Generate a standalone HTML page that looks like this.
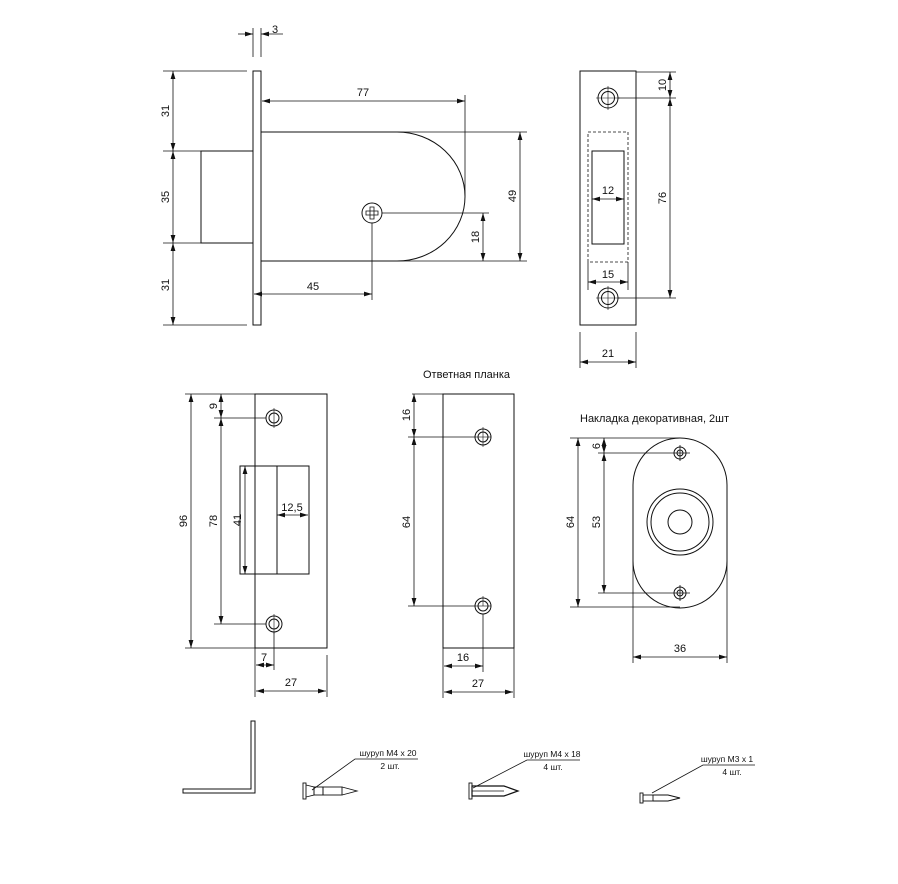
<!DOCTYPE html>
<html><head><meta charset="utf-8"><style>
html,body{margin:0;padding:0;background:#fff;}
svg{display:block;}
text{font-family:"Liberation Sans","DejaVu Sans",sans-serif;fill:#111;}
.d{font-size:11px;}
.s{font-size:8.5px;}
</style></head><body>
<svg width="898" height="884" viewBox="0 0 898 884" xmlns="http://www.w3.org/2000/svg">
<defs>
<marker id="a" viewBox="0 0 10 6" refX="10" refY="3" markerWidth="8" markerHeight="5" markerUnits="userSpaceOnUse" orient="auto-start-reverse"><path d="M0,0 L10,3 L0,6 Z" fill="#111"/></marker>
</defs>
<g fill="none" stroke="#111" stroke-width="1">
<!-- TOP LEFT LOCK -->
<rect x="253" y="71" width="8" height="254"/>
<rect x="201" y="151" width="52" height="92"/>
<path d="M261 132 H397 A68 64.5 0 0 1 397 261 H261"/>
<circle cx="372" cy="213" r="10"/>
<path d="M366 211 h12 v4 h-12 z M370 207 h4 v12 h-4 z" stroke-width="0.8"/>
<!-- extension lines -->
<g stroke-width="0.8">
<line x1="253" y1="28" x2="253" y2="57"/><line x1="261" y1="28" x2="261" y2="57"/>
<line x1="163" y1="71" x2="247" y2="71"/><line x1="163" y1="325" x2="247" y2="325"/>
<line x1="163" y1="151" x2="201" y2="151"/><line x1="163" y1="243" x2="201" y2="243"/>
<line x1="465" y1="95" x2="465" y2="196"/>
<line x1="397" y1="132" x2="527" y2="132"/><line x1="397" y1="261" x2="527" y2="261"/>
<line x1="382" y1="213" x2="489" y2="213"/>
<line x1="372" y1="223" x2="372" y2="300"/>
</g>
<g stroke-width="0.8" marker-start="url(#a)" marker-end="url(#a)">
<line x1="173" y1="71" x2="173" y2="151"/>
<line x1="173" y1="151" x2="173" y2="243"/>
<line x1="173" y1="243" x2="173" y2="325"/>
<line x1="262" y1="101" x2="465" y2="101"/>
<line x1="520" y1="132" x2="520" y2="261"/>
<line x1="483" y1="213" x2="483" y2="261"/>
<line x1="254" y1="294" x2="372" y2="294"/>
</g>
<line x1="238" y1="34" x2="253" y2="34" stroke-width="0.8" marker-end="url(#a)"/>
<line x1="283" y1="34" x2="261" y2="34" stroke-width="0.8" marker-end="url(#a)"/>

<!-- TOP RIGHT STRIKE -->
<rect x="580" y="71" width="56" height="254"/>
<rect x="588" y="132" width="40" height="130" stroke-dasharray="3,2" stroke-width="0.8"/>
<rect x="592" y="151" width="32" height="93"/>
<circle cx="608" cy="98" r="10"/><circle cx="608" cy="98" r="6.5"/>
<circle cx="608" cy="298" r="10"/><circle cx="608" cy="298" r="6.5"/>
<g stroke-width="0.6">
<line x1="596" y1="98" x2="620" y2="98"/><line x1="608" y1="86" x2="608" y2="110"/>
<line x1="596" y1="298" x2="620" y2="298"/><line x1="608" y1="286" x2="608" y2="310"/>
</g>
<g stroke-width="0.8">
<line x1="618" y1="98" x2="676" y2="98"/><line x1="636" y1="72" x2="676" y2="72"/>
<line x1="618" y1="298" x2="676" y2="298"/>
<line x1="588" y1="262" x2="588" y2="290"/><line x1="628" y1="262" x2="628" y2="290"/>
<line x1="580" y1="332" x2="580" y2="368"/><line x1="636" y1="332" x2="636" y2="368"/>
</g>
<g stroke-width="0.8" marker-start="url(#a)" marker-end="url(#a)">
<line x1="670" y1="72" x2="670" y2="98"/>
<line x1="670" y1="98" x2="670" y2="298"/>
<line x1="580" y1="362" x2="636" y2="362"/>
<line x1="592" y1="199" x2="624" y2="199"/>
<line x1="588" y1="282" x2="628" y2="282"/>
</g>

<!-- MIDDLE LEFT PLATE -->
<rect x="255" y="394" width="72" height="254"/>
<rect x="240" y="466" width="69" height="108"/>
<line x1="277" y1="466" x2="277" y2="574"/>
<circle cx="274" cy="418" r="8"/><circle cx="274" cy="418" r="5"/>
<circle cx="274" cy="624" r="8"/><circle cx="274" cy="624" r="5"/>
<g stroke-width="0.6">
<line x1="274" y1="408" x2="274" y2="428"/><line x1="274" y1="614" x2="274" y2="634"/>
</g>
<g stroke-width="0.8">
<line x1="185" y1="394" x2="255" y2="394"/><line x1="185" y1="648" x2="255" y2="648"/>
<line x1="214" y1="418" x2="266" y2="418"/><line x1="214" y1="624" x2="266" y2="624"/>
<line x1="274" y1="632" x2="274" y2="670"/>
<line x1="255" y1="648" x2="255" y2="697"/><line x1="327" y1="655" x2="327" y2="697"/>
</g>
<g stroke-width="0.8" marker-start="url(#a)" marker-end="url(#a)">
<line x1="191" y1="394" x2="191" y2="648"/>
<line x1="221" y1="394" x2="221" y2="418"/>
<line x1="221" y1="418" x2="221" y2="624"/>
<line x1="245" y1="466" x2="245" y2="574"/>
<line x1="277" y1="515" x2="308" y2="515"/>
<line x1="256" y1="665" x2="274" y2="665"/>
<line x1="256" y1="691" x2="326" y2="691"/>
</g>

<!-- MIDDLE PLATE 2 -->
<rect x="443" y="394" width="71" height="254"/>
<circle cx="483" cy="437" r="8"/><circle cx="483" cy="437" r="5"/>
<circle cx="483" cy="606" r="8"/><circle cx="483" cy="606" r="5"/>
<g stroke-width="0.6">
<line x1="483" y1="427" x2="483" y2="447"/><line x1="475" y1="437" x2="491" y2="437"/>
<line x1="483" y1="596" x2="483" y2="606"/><line x1="475" y1="606" x2="491" y2="606"/>
</g>
<g stroke-width="0.8">
<line x1="412" y1="394" x2="443" y2="394"/>
<line x1="408" y1="437" x2="475" y2="437"/><line x1="408" y1="606" x2="475" y2="606"/>
<line x1="483" y1="614" x2="483" y2="672"/>
<line x1="443" y1="648" x2="443" y2="698"/><line x1="514" y1="648" x2="514" y2="698"/>
</g>
<g stroke-width="0.8" marker-start="url(#a)" marker-end="url(#a)">
<line x1="414" y1="394" x2="414" y2="437"/>
<line x1="414" y1="437" x2="414" y2="606"/>
<line x1="444" y1="666" x2="483" y2="666"/>
<line x1="444" y1="692" x2="513" y2="692"/>
</g>

<!-- DECORATIVE -->
<path d="M633 485 A47 47 0 0 1 727 485 V561 A47 47 0 0 1 633 561 Z"/>
<circle cx="680" cy="522" r="33"/><circle cx="680" cy="522" r="29"/><circle cx="680" cy="522" r="12"/>
<circle cx="680" cy="453" r="6"/><circle cx="680" cy="453" r="3"/>
<circle cx="680" cy="593" r="6"/><circle cx="680" cy="593" r="3"/>
<g stroke-width="0.8">
<line x1="570" y1="438" x2="680" y2="438"/><line x1="570" y1="607" x2="680" y2="607"/>
<line x1="598" y1="453" x2="690" y2="453"/><line x1="598" y1="593" x2="690" y2="593"/>
<line x1="633" y1="561" x2="633" y2="663"/><line x1="727" y1="561" x2="727" y2="663"/>
<line x1="680" y1="445" x2="680" y2="461"/><line x1="680" y1="585" x2="680" y2="601"/>
</g>
<g stroke-width="0.8" marker-start="url(#a)" marker-end="url(#a)">
<line x1="578" y1="438" x2="578" y2="607"/>
<line x1="604" y1="438" x2="604" y2="453"/>
<line x1="604" y1="453" x2="604" y2="593"/>
<line x1="633" y1="657" x2="727" y2="657"/>
</g>

<!-- BOTTOM ROW -->
<path d="M251 721 H255 V793 H183 V789 H251 Z"/>
<!-- screw 1 -->
<rect x="303" y="783" width="3" height="16" stroke-width="0.9"/>
<path d="M306 785 L314 787 V795 L306 797" stroke-width="0.9"/>
<rect x="314" y="787" width="9" height="8" stroke-width="0.9"/>
<rect x="323" y="787" width="19" height="8" stroke-width="0.9"/>
<path d="M342 787 L357 791 L342 795" stroke-width="0.9"/>
<polyline points="312,790 355,759 418,759" stroke-width="0.8"/>
<!-- screw 2 -->
<rect x="469" y="783" width="3" height="16" stroke-width="0.9"/>
<path d="M472 786 H504 L518 791 L504 796 H472 Z" stroke-width="1.2"/>
<line x1="472" y1="791" x2="504" y2="791" stroke-width="0.8"/>
<polyline points="473,788 527,760 580,760" stroke-width="0.8"/>
<!-- screw 3 -->
<rect x="640" y="793" width="3" height="10" stroke-width="0.9"/>
<rect x="643" y="795" width="10" height="6" stroke-width="0.9"/>
<path d="M653 795 H668 L680 798 L668 801 H653" stroke-width="1.1"/>
<polyline points="652,793 703,765 755,765" stroke-width="0.8"/>
</g>

<!-- TEXT -->
<g class="d">
<text x="272" y="33">3</text>
<text x="363" y="96" text-anchor="middle">77</text>
<text x="313" y="290" text-anchor="middle">45</text>
<text transform="translate(169,111) rotate(-90)" text-anchor="middle">31</text>
<text transform="translate(169,197) rotate(-90)" text-anchor="middle">35</text>
<text transform="translate(169,285) rotate(-90)" text-anchor="middle">31</text>
<text transform="translate(516,196) rotate(-90)" text-anchor="middle">49</text>
<text transform="translate(479,237) rotate(-90)" text-anchor="middle">18</text>
<text transform="translate(666,85) rotate(-90)" text-anchor="middle">10</text>
<text transform="translate(666,198) rotate(-90)" text-anchor="middle">76</text>
<text x="608" y="194" text-anchor="middle">12</text>
<text x="608" y="278" text-anchor="middle">15</text>
<text x="608" y="357" text-anchor="middle">21</text>
<text x="423" y="378">Ответная планка</text>
<text transform="translate(187,521) rotate(-90)" text-anchor="middle">96</text>
<text transform="translate(217,406) rotate(-90)" text-anchor="middle">9</text>
<text transform="translate(217,521) rotate(-90)" text-anchor="middle">78</text>
<text transform="translate(241,520) rotate(-90)" text-anchor="middle">41</text>
<text x="292" y="511" text-anchor="middle">12,5</text>
<text x="264" y="661" text-anchor="middle">7</text>
<text x="291" y="686" text-anchor="middle">27</text>
<text transform="translate(410,415) rotate(-90)" text-anchor="middle">16</text>
<text transform="translate(410,522) rotate(-90)" text-anchor="middle">64</text>
<text x="463" y="661" text-anchor="middle">16</text>
<text x="478" y="687" text-anchor="middle">27</text>
<text x="580" y="422">Накладка  декоративная, 2шт</text>
<text transform="translate(574,522) rotate(-90)" text-anchor="middle">64</text>
<text transform="translate(600,446) rotate(-90)" text-anchor="middle">6</text>
<text transform="translate(600,522) rotate(-90)" text-anchor="middle">53</text>
<text x="680" y="652" text-anchor="middle">36</text>
</g>
<g class="s">
<text x="388" y="756" text-anchor="middle">шуруп М4 x 20</text>
<text x="390" y="769" text-anchor="middle">2 шт.</text>
<text x="552" y="757" text-anchor="middle">шуруп М4 x 18</text>
<text x="553" y="770" text-anchor="middle">4 шт.</text>
<text x="727" y="762" text-anchor="middle">шуруп М3 x 1</text>
<text x="732" y="775" text-anchor="middle">4 шт.</text>
</g>
</svg>
</body></html>
